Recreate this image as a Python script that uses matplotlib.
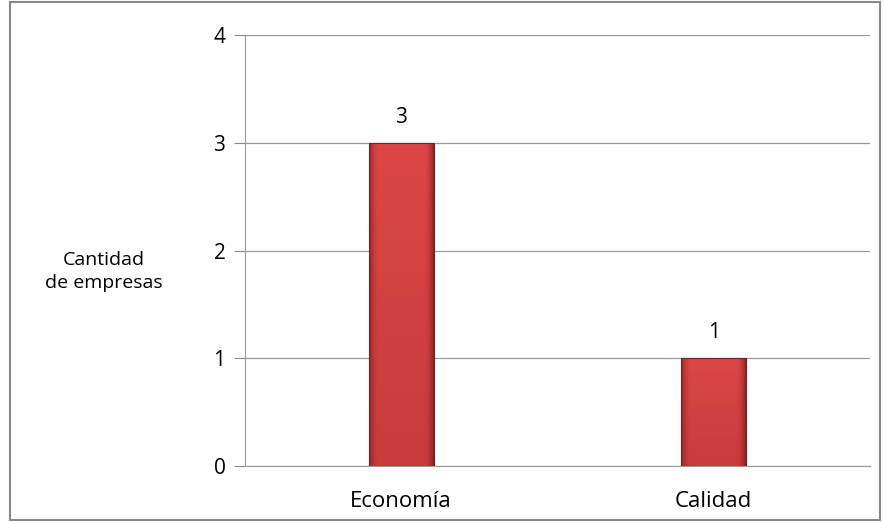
import matplotlib.pyplot as plt
import matplotlib.patches as mpatches
from matplotlib.colors import LinearSegmentedColormap
import numpy as np

categorias = ["Economía", "Calidad"]
valores = [3, 1]
ticks_y = [0, 1, 2, 3, 4]

plt.rcParams['font.family'] = ['Open Sans', 'DejaVu Sans']

fig = plt.figure(figsize=(8.84, 5.22), dpi=100)
ax = fig.add_axes([0.277, 0.107, 0.707, 0.826])

x = np.arange(len(categorias))
ancho = 0.208
barras = ax.bar(x, valores, width=ancho, color='none', edgecolor='#7a2020', linewidth=0.8, zorder=3)

# degradado tipo Excel dentro de cada barra
cmap = LinearSegmentedColormap.from_list('rojo', ['#7e2222', '#b83434', '#dc4646'])
h = np.linspace(0, 1, 100)
horiz = 1 - np.abs(h - 0.5) * 2
horiz = np.clip(horiz * 4, 0, 1) ** 0.6
vert = np.linspace(0.72, 1.0, 100)[:, None]
grad = horiz[None, :] * vert
for b in barras:
    x0, y0 = b.get_x(), b.get_y()
    w, hh = b.get_width(), b.get_height()
    im = ax.imshow(grad, cmap=cmap, vmin=0, vmax=1, extent=[x0, x0 + w, y0, y0 + hh],
                   origin='lower', aspect='auto', zorder=2)
    im.set_clip_path(b)
    ax.text(x0 + w / 2, hh + 0.14, str(int(hh)), ha='center', va='bottom', fontsize=15, color='black')

ax.set_xlim(-0.5, 1.5)
ax.set_ylim(0, 4)
ax.set_yticks(ticks_y)
ax.set_xticks(x)
ax.set_xticklabels(categorias, fontsize=16)
ax.tick_params(axis='y', labelsize=15, length=8, color='#888888', pad=6)
ax.tick_params(axis='x', length=0, pad=18)
ax.yaxis.grid(True, color='#999999', linewidth=0.9, zorder=0)
ax.set_axisbelow(True)
for s in ['top', 'right']:
    ax.spines[s].set_visible(False)
ax.spines['left'].set_color('#999999')
ax.spines['bottom'].set_color('#999999')

fig.text(0.117, 0.48, "Cantidad\nde empresas", ha='center', va='center', fontsize=14, linespacing=1.3)

borde = mpatches.Rectangle((0.011, 0.004), 0.985, 0.992, transform=fig.transFigure,
                           fill=False, edgecolor='#888888', linewidth=1.5)
fig.patches.append(borde)

fig.savefig("out.png", dpi=100)
